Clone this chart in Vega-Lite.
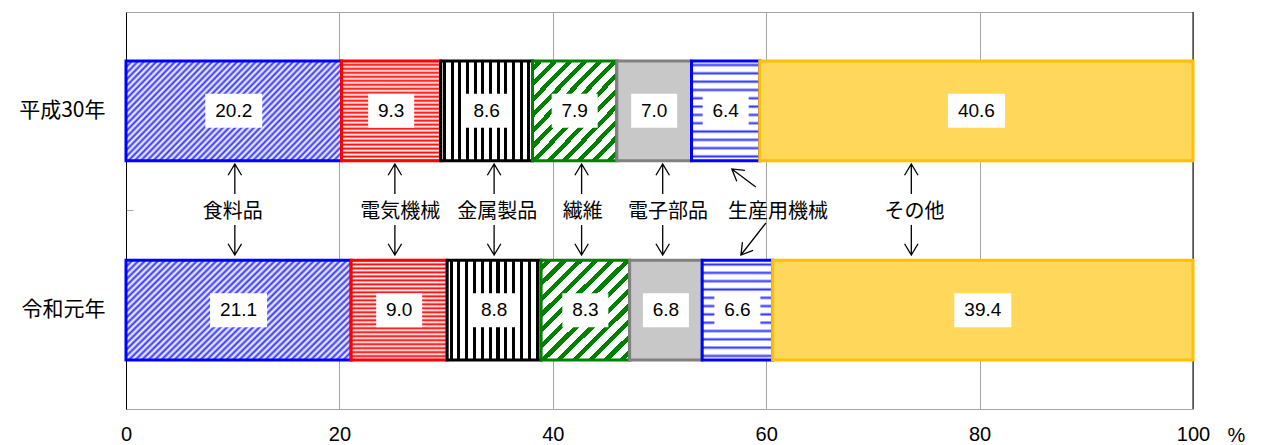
{
"$schema": "https://vega.github.io/schema/vega-lite/v6.json",
"width": 1067, "height": 397,
"autosize": "none",
"padding": {"left": 126, "top": 12, "right": 69, "bottom": 36},
"background": "white",
"config": {"view": {"stroke": "#a6a6a6", "strokeWidth": 1}, "font": "Noto Sans CJK JP"},
"datasets": {
"bars": [
{"year": "平成30年", "cat": "食料品", "order": 1, "value": 20.2},
{"year": "平成30年", "cat": "電気機械", "order": 2, "value": 9.3},
{"year": "平成30年", "cat": "金属製品", "order": 3, "value": 8.6},
{"year": "平成30年", "cat": "繊維", "order": 4, "value": 7.9},
{"year": "平成30年", "cat": "電子部品", "order": 5, "value": 7.0},
{"year": "平成30年", "cat": "生産用機械", "order": 6, "value": 6.4},
{"year": "平成30年", "cat": "その他", "order": 7, "value": 40.6},
{"year": "令和元年", "cat": "食料品", "order": 1, "value": 21.1},
{"year": "令和元年", "cat": "電気機械", "order": 2, "value": 9.0},
{"year": "令和元年", "cat": "金属製品", "order": 3, "value": 8.8},
{"year": "令和元年", "cat": "繊維", "order": 4, "value": 8.3},
{"year": "令和元年", "cat": "電子部品", "order": 5, "value": 6.8},
{"year": "令和元年", "cat": "生産用機械", "order": 6, "value": 6.6},
{"year": "令和元年", "cat": "その他", "order": 7, "value": 39.4}
],
"notes": [
{"name": "食料品", "x": 10.0},
{"name": "電気機械", "x": 25.7},
{"name": "金属製品", "x": 34.8},
{"name": "繊維", "x": 42.8},
{"name": "電子部品", "x": 50.8},
{"name": "生産用機械", "x": 61.1},
{"name": "その他", "x": 73.9}
],
"arrows": [
{"x": 10.2, "kind": "v"},
{"x": 25.2, "kind": "v"},
{"x": 34.5, "kind": "v"},
{"x": 42.7, "kind": "v"},
{"x": 50.3, "kind": "v"},
{"x": 73.6, "kind": "v"},
{"x": 57.9, "kind": "du"},
{"x": 58.8, "kind": "dd"}
]
},
"layer": [
{
"data": {"values": [{}]},
"mark": {"type": "rule", "color": "#000000", "strokeWidth": 1},
"encoding": {"x": {"datum": 100, "type": "quantitative", "title": "%"}}
},
{
"data": {"name": "bars"},
"transform": [{"stack": "value", "groupby": ["year"], "sort": [{"field": "order", "order": "ascending"}], "as": ["x0", "x1"]}],
"encoding": {
"x": {"field": "x0", "type": "quantitative", "title": "%", "scale": {"domain": [0, 100], "nice": false},
"axis": {"values": [0, 20, 40, 60, 80, 100], "grid": true, "gridColor": "#a6a6a6", "gridOpacity": {"condition": {"test": "datum.value === 0 || datum.value === 100", "value": 0}, "value": 1}, "domain": false, "ticks": false, "labelFont": "Liberation Sans", "labelFontSize": 20, "labelColor": "#000000", "labelPadding": 15, "labelDx": -4, "labelFlush": false, "title": "%", "titleX": 1110, "titleY": 16, "titleBaseline": "top", "titleAlign": "center", "titleAnchor": null, "titleFont": "Liberation Sans", "titleFontSize": 20, "titleFontWeight": "normal", "titleColor": "#000000"}},
"x2": {"field": "x1"},
"y": {"field": "year", "type": "nominal", "title": null, "scale": {"domain": ["平成30年", "_", "令和元年"], "paddingInner": 0, "paddingOuter": 0.49},
"axis": {"domainColor": "#000000", "domainWidth": 1, "ticks": true, "tickSize": -7, "tickColor": "#a6a6a6", "tickOpacity": {"condition": {"test": "datum.value === '_'", "value": 1}, "value": 0}, "labelExpr": "datum.value === '_' ? '' : datum.value", "labelFont": "Noto Sans CJK JP", "labelFontSize": 21, "labelColor": "#000000", "labelPadding": 28, "grid": false, "title": null}}
},
"layer": [
{"transform": [{"filter": "datum.cat === '食料品'"}], "mark": {"type": "bar", "stroke": "#0000ff", "strokeWidth": 3, "fill": {"gradient": "linear", "x1": 0, "y1": 0, "x2": 1.2, "y2": 0.54, "stops": [
{"offset": 0, "color": "#3333ff"}, {"offset": 0.01, "color": "#ffffff"}, {"offset": 0.02, "color": "#3333ff"}, {"offset": 0.03, "color": "#ffffff"}, {"offset": 0.04, "color": "#3333ff"}, {"offset": 0.05, "color": "#ffffff"}, {"offset": 0.06, "color": "#3333ff"}, {"offset": 0.07, "color": "#ffffff"}, {"offset": 0.08, "color": "#3333ff"}, {"offset": 0.09, "color": "#ffffff"},
{"offset": 0.1, "color": "#3333ff"}, {"offset": 0.11, "color": "#ffffff"}, {"offset": 0.12, "color": "#3333ff"}, {"offset": 0.13, "color": "#ffffff"}, {"offset": 0.14, "color": "#3333ff"}, {"offset": 0.15, "color": "#ffffff"}, {"offset": 0.16, "color": "#3333ff"}, {"offset": 0.17, "color": "#ffffff"}, {"offset": 0.18, "color": "#3333ff"}, {"offset": 0.19, "color": "#ffffff"},
{"offset": 0.2, "color": "#3333ff"}, {"offset": 0.21, "color": "#ffffff"}, {"offset": 0.22, "color": "#3333ff"}, {"offset": 0.23, "color": "#ffffff"}, {"offset": 0.24, "color": "#3333ff"}, {"offset": 0.25, "color": "#ffffff"}, {"offset": 0.26, "color": "#3333ff"}, {"offset": 0.27, "color": "#ffffff"}, {"offset": 0.28, "color": "#3333ff"}, {"offset": 0.29, "color": "#ffffff"},
{"offset": 0.3, "color": "#3333ff"}, {"offset": 0.31, "color": "#ffffff"}, {"offset": 0.32, "color": "#3333ff"}, {"offset": 0.33, "color": "#ffffff"}, {"offset": 0.34, "color": "#3333ff"}, {"offset": 0.35, "color": "#ffffff"}, {"offset": 0.36, "color": "#3333ff"}, {"offset": 0.37, "color": "#ffffff"}, {"offset": 0.38, "color": "#3333ff"}, {"offset": 0.39, "color": "#ffffff"},
{"offset": 0.4, "color": "#3333ff"}, {"offset": 0.41, "color": "#ffffff"}, {"offset": 0.42, "color": "#3333ff"}, {"offset": 0.43, "color": "#ffffff"}, {"offset": 0.44, "color": "#3333ff"}, {"offset": 0.45, "color": "#ffffff"}, {"offset": 0.46, "color": "#3333ff"}, {"offset": 0.47, "color": "#ffffff"}, {"offset": 0.48, "color": "#3333ff"}, {"offset": 0.49, "color": "#ffffff"},
{"offset": 0.5, "color": "#3333ff"}, {"offset": 0.51, "color": "#ffffff"}, {"offset": 0.52, "color": "#3333ff"}, {"offset": 0.53, "color": "#ffffff"}, {"offset": 0.54, "color": "#3333ff"}, {"offset": 0.55, "color": "#ffffff"}, {"offset": 0.56, "color": "#3333ff"}, {"offset": 0.57, "color": "#ffffff"}, {"offset": 0.58, "color": "#3333ff"}, {"offset": 0.59, "color": "#ffffff"},
{"offset": 0.6, "color": "#3333ff"}, {"offset": 0.61, "color": "#ffffff"}, {"offset": 0.62, "color": "#3333ff"}, {"offset": 0.63, "color": "#ffffff"}, {"offset": 0.64, "color": "#3333ff"}, {"offset": 0.65, "color": "#ffffff"}, {"offset": 0.66, "color": "#3333ff"}, {"offset": 0.67, "color": "#ffffff"}, {"offset": 0.68, "color": "#3333ff"}, {"offset": 0.69, "color": "#ffffff"},
{"offset": 0.7, "color": "#3333ff"}, {"offset": 0.71, "color": "#ffffff"}, {"offset": 0.72, "color": "#3333ff"}, {"offset": 0.73, "color": "#ffffff"}, {"offset": 0.74, "color": "#3333ff"}, {"offset": 0.75, "color": "#ffffff"}, {"offset": 0.76, "color": "#3333ff"}, {"offset": 0.77, "color": "#ffffff"}, {"offset": 0.78, "color": "#3333ff"}, {"offset": 0.79, "color": "#ffffff"},
{"offset": 0.8, "color": "#3333ff"}, {"offset": 0.81, "color": "#ffffff"}, {"offset": 0.82, "color": "#3333ff"}, {"offset": 0.83, "color": "#ffffff"}, {"offset": 0.84, "color": "#3333ff"}, {"offset": 0.85, "color": "#ffffff"}, {"offset": 0.86, "color": "#3333ff"}, {"offset": 0.87, "color": "#ffffff"}, {"offset": 0.88, "color": "#3333ff"}, {"offset": 0.89, "color": "#ffffff"},
{"offset": 0.9, "color": "#3333ff"}, {"offset": 0.91, "color": "#ffffff"}, {"offset": 0.92, "color": "#3333ff"}, {"offset": 0.93, "color": "#ffffff"}, {"offset": 0.94, "color": "#3333ff"}, {"offset": 0.95, "color": "#ffffff"}, {"offset": 0.96, "color": "#3333ff"}, {"offset": 0.97, "color": "#ffffff"}, {"offset": 0.98, "color": "#3333ff"}, {"offset": 0.99, "color": "#ffffff"},
{"offset": 1, "color": "#3333ff"}]}}},
{"transform": [{"filter": "datum.cat === '電気機械'"}], "mark": {"type": "bar", "stroke": "#ff0000", "strokeWidth": 3, "fill": {"gradient": "linear", "x1": 0, "y1": 0, "x2": 0, "y2": 1, "stops": [
{"offset": 0, "color": "#ff0000"}, {"offset": 0.02, "color": "#ffffff"}, {"offset": 0.04, "color": "#ff0000"}, {"offset": 0.06, "color": "#ffffff"}, {"offset": 0.08, "color": "#ff0000"}, {"offset": 0.1, "color": "#ffffff"}, {"offset": 0.12, "color": "#ff0000"}, {"offset": 0.14, "color": "#ffffff"}, {"offset": 0.16, "color": "#ff0000"}, {"offset": 0.18, "color": "#ffffff"},
{"offset": 0.2, "color": "#ff0000"}, {"offset": 0.22, "color": "#ffffff"}, {"offset": 0.24, "color": "#ff0000"}, {"offset": 0.26, "color": "#ffffff"}, {"offset": 0.28, "color": "#ff0000"}, {"offset": 0.3, "color": "#ffffff"}, {"offset": 0.32, "color": "#ff0000"}, {"offset": 0.34, "color": "#ffffff"}, {"offset": 0.36, "color": "#ff0000"}, {"offset": 0.38, "color": "#ffffff"},
{"offset": 0.4, "color": "#ff0000"}, {"offset": 0.42, "color": "#ffffff"}, {"offset": 0.44, "color": "#ff0000"}, {"offset": 0.46, "color": "#ffffff"}, {"offset": 0.48, "color": "#ff0000"}, {"offset": 0.5, "color": "#ffffff"}, {"offset": 0.52, "color": "#ff0000"}, {"offset": 0.54, "color": "#ffffff"}, {"offset": 0.56, "color": "#ff0000"}, {"offset": 0.58, "color": "#ffffff"},
{"offset": 0.6, "color": "#ff0000"}, {"offset": 0.62, "color": "#ffffff"}, {"offset": 0.64, "color": "#ff0000"}, {"offset": 0.66, "color": "#ffffff"}, {"offset": 0.68, "color": "#ff0000"}, {"offset": 0.7, "color": "#ffffff"}, {"offset": 0.72, "color": "#ff0000"}, {"offset": 0.74, "color": "#ffffff"}, {"offset": 0.76, "color": "#ff0000"}, {"offset": 0.78, "color": "#ffffff"},
{"offset": 0.8, "color": "#ff0000"}, {"offset": 0.82, "color": "#ffffff"}, {"offset": 0.84, "color": "#ff0000"}, {"offset": 0.86, "color": "#ffffff"}, {"offset": 0.88, "color": "#ff0000"}, {"offset": 0.9, "color": "#ffffff"}, {"offset": 0.92, "color": "#ff0000"}, {"offset": 0.94, "color": "#ffffff"}, {"offset": 0.96, "color": "#ff0000"}, {"offset": 0.98, "color": "#ffffff"},
{"offset": 1, "color": "#ff0000"}]}}},
{"transform": [{"filter": "datum.cat === '金属製品'"}], "mark": {"type": "bar", "stroke": "#000000", "strokeWidth": 3, "fill": {"gradient": "linear", "x1": 0, "y1": 0, "x2": 1, "y2": 0, "stops": [
{"offset": 0, "color": "#ffffff"},
{"offset": 0.025, "color": "#ffffff"}, {"offset": 0.025, "color": "#000000"}, {"offset": 0.0583, "color": "#000000"}, {"offset": 0.0583, "color": "#ffffff"},
{"offset": 0.1083, "color": "#ffffff"}, {"offset": 0.1083, "color": "#000000"}, {"offset": 0.1416, "color": "#000000"}, {"offset": 0.1416, "color": "#ffffff"},
{"offset": 0.1917, "color": "#ffffff"}, {"offset": 0.1917, "color": "#000000"}, {"offset": 0.225, "color": "#000000"}, {"offset": 0.225, "color": "#ffffff"},
{"offset": 0.275, "color": "#ffffff"}, {"offset": 0.275, "color": "#000000"}, {"offset": 0.3083, "color": "#000000"}, {"offset": 0.3083, "color": "#ffffff"},
{"offset": 0.3583, "color": "#ffffff"}, {"offset": 0.3583, "color": "#000000"}, {"offset": 0.3916, "color": "#000000"}, {"offset": 0.3916, "color": "#ffffff"},
{"offset": 0.4417, "color": "#ffffff"}, {"offset": 0.4417, "color": "#000000"}, {"offset": 0.475, "color": "#000000"}, {"offset": 0.475, "color": "#ffffff"},
{"offset": 0.525, "color": "#ffffff"}, {"offset": 0.525, "color": "#000000"}, {"offset": 0.5583, "color": "#000000"}, {"offset": 0.5583, "color": "#ffffff"},
{"offset": 0.6083, "color": "#ffffff"}, {"offset": 0.6083, "color": "#000000"}, {"offset": 0.6416, "color": "#000000"}, {"offset": 0.6416, "color": "#ffffff"},
{"offset": 0.6917, "color": "#ffffff"}, {"offset": 0.6917, "color": "#000000"}, {"offset": 0.725, "color": "#000000"}, {"offset": 0.725, "color": "#ffffff"},
{"offset": 0.775, "color": "#ffffff"}, {"offset": 0.775, "color": "#000000"}, {"offset": 0.8083, "color": "#000000"}, {"offset": 0.8083, "color": "#ffffff"},
{"offset": 0.8583, "color": "#ffffff"}, {"offset": 0.8583, "color": "#000000"}, {"offset": 0.8916, "color": "#000000"}, {"offset": 0.8916, "color": "#ffffff"},
{"offset": 0.9417, "color": "#ffffff"}, {"offset": 0.9417, "color": "#000000"}, {"offset": 0.975, "color": "#000000"}, {"offset": 0.975, "color": "#ffffff"},
{"offset": 1, "color": "#ffffff"}]}}},
{"transform": [{"filter": "datum.cat === '繊維'"}], "mark": {"type": "bar", "stroke": "#008000", "strokeWidth": 3, "fill": {"gradient": "linear", "x1": 0, "y1": 0, "x2": 0.93, "y2": 1.06, "stops": [
{"offset": 0, "color": "#ffffff"},
{"offset": 0.025, "color": "#ffffff"}, {"offset": 0.025, "color": "#008000"}, {"offset": 0.0583, "color": "#008000"}, {"offset": 0.0583, "color": "#ffffff"},
{"offset": 0.1083, "color": "#ffffff"}, {"offset": 0.1083, "color": "#008000"}, {"offset": 0.1416, "color": "#008000"}, {"offset": 0.1416, "color": "#ffffff"},
{"offset": 0.1917, "color": "#ffffff"}, {"offset": 0.1917, "color": "#008000"}, {"offset": 0.225, "color": "#008000"}, {"offset": 0.225, "color": "#ffffff"},
{"offset": 0.275, "color": "#ffffff"}, {"offset": 0.275, "color": "#008000"}, {"offset": 0.3083, "color": "#008000"}, {"offset": 0.3083, "color": "#ffffff"},
{"offset": 0.3583, "color": "#ffffff"}, {"offset": 0.3583, "color": "#008000"}, {"offset": 0.3916, "color": "#008000"}, {"offset": 0.3916, "color": "#ffffff"},
{"offset": 0.4417, "color": "#ffffff"}, {"offset": 0.4417, "color": "#008000"}, {"offset": 0.475, "color": "#008000"}, {"offset": 0.475, "color": "#ffffff"},
{"offset": 0.525, "color": "#ffffff"}, {"offset": 0.525, "color": "#008000"}, {"offset": 0.5583, "color": "#008000"}, {"offset": 0.5583, "color": "#ffffff"},
{"offset": 0.6083, "color": "#ffffff"}, {"offset": 0.6083, "color": "#008000"}, {"offset": 0.6416, "color": "#008000"}, {"offset": 0.6416, "color": "#ffffff"},
{"offset": 0.6917, "color": "#ffffff"}, {"offset": 0.6917, "color": "#008000"}, {"offset": 0.725, "color": "#008000"}, {"offset": 0.725, "color": "#ffffff"},
{"offset": 0.775, "color": "#ffffff"}, {"offset": 0.775, "color": "#008000"}, {"offset": 0.8083, "color": "#008000"}, {"offset": 0.8083, "color": "#ffffff"},
{"offset": 0.8583, "color": "#ffffff"}, {"offset": 0.8583, "color": "#008000"}, {"offset": 0.8916, "color": "#008000"}, {"offset": 0.8916, "color": "#ffffff"},
{"offset": 0.9417, "color": "#ffffff"}, {"offset": 0.9417, "color": "#008000"}, {"offset": 0.975, "color": "#008000"}, {"offset": 0.975, "color": "#ffffff"},
{"offset": 1, "color": "#ffffff"}]}}},
{"transform": [{"filter": "datum.cat === '電子部品'"}], "mark": {"type": "bar", "stroke": "#808080", "strokeWidth": 3, "fill": "#c8c8c8"}},
{"transform": [{"filter": "datum.cat === '生産用機械'"}], "mark": {"type": "bar", "stroke": "#0000ff", "strokeWidth": 3, "fill": {"gradient": "linear", "x1": 0, "y1": 0, "x2": 0, "y2": 1, "stops": [
{"offset": 0, "color": "#ffffff"},
{"offset": 0.02, "color": "#ffffff"}, {"offset": 0.0417, "color": "#3030ff"}, {"offset": 0.0633, "color": "#ffffff"},
{"offset": 0.1033, "color": "#ffffff"}, {"offset": 0.125, "color": "#3030ff"}, {"offset": 0.1466, "color": "#ffffff"},
{"offset": 0.1867, "color": "#ffffff"}, {"offset": 0.2083, "color": "#3030ff"}, {"offset": 0.23, "color": "#ffffff"},
{"offset": 0.27, "color": "#ffffff"}, {"offset": 0.2917, "color": "#3030ff"}, {"offset": 0.3133, "color": "#ffffff"},
{"offset": 0.3533, "color": "#ffffff"}, {"offset": 0.375, "color": "#3030ff"}, {"offset": 0.3966, "color": "#ffffff"},
{"offset": 0.4367, "color": "#ffffff"}, {"offset": 0.4583, "color": "#3030ff"}, {"offset": 0.48, "color": "#ffffff"},
{"offset": 0.52, "color": "#ffffff"}, {"offset": 0.5417, "color": "#3030ff"}, {"offset": 0.5633, "color": "#ffffff"},
{"offset": 0.6033, "color": "#ffffff"}, {"offset": 0.625, "color": "#3030ff"}, {"offset": 0.6466, "color": "#ffffff"},
{"offset": 0.6867, "color": "#ffffff"}, {"offset": 0.7083, "color": "#3030ff"}, {"offset": 0.73, "color": "#ffffff"},
{"offset": 0.77, "color": "#ffffff"}, {"offset": 0.7917, "color": "#3030ff"}, {"offset": 0.8133, "color": "#ffffff"},
{"offset": 0.8533, "color": "#ffffff"}, {"offset": 0.875, "color": "#3030ff"}, {"offset": 0.8966, "color": "#ffffff"},
{"offset": 0.9367, "color": "#ffffff"}, {"offset": 0.9583, "color": "#3030ff"}, {"offset": 0.98, "color": "#ffffff"},
{"offset": 1, "color": "#ffffff"}]}}},
{"transform": [{"filter": "datum.cat === 'その他'"}], "mark": {"type": "bar", "stroke": "#ffc000", "strokeWidth": 3, "fill": "#ffd75a"}}
]
},
{
"data": {"name": "bars"},
"encoding": {
"x": {"field": "value", "type": "quantitative", "stack": "zero", "bandPosition": 0.5, "title": "%"},
"y": {"field": "year", "type": "nominal", "title": null},
"order": {"field": "order", "type": "quantitative"}
},
"layer": [
{"mark": {"type": "point", "filled": true, "color": "#ffffff", "opacity": 1, "strokeWidth": 0},
"encoding": {
"shape": {"condition": {"test": "datum.value >= 10", "value": "M-1,-0.6L1,-0.6L1,0.6L-1,0.6Z"}, "value": "M-1,-0.74L1,-0.74L1,0.74L-1,0.74Z"},
"size": {"condition": {"test": "datum.value >= 10", "value": 3249}, "value": 2116}}},
{"mark": {"type": "text", "font": "Liberation Sans", "fontSize": 19, "color": "#000000", "baseline": "middle", "align": "center"},
"encoding": {"text": {"field": "value", "type": "quantitative", "format": ".1f"}}}
]
},
{
"data": {"name": "notes"},
"mark": {"type": "text", "font": "Noto Sans CJK JP", "fontSize": 20, "color": "#000000", "baseline": "middle", "align": "center", "dy": 1},
"encoding": {
"x": {"field": "x", "type": "quantitative", "title": "%"},
"y": {"datum": "_", "type": "nominal", "title": null},
"text": {"field": "name", "type": "nominal"}
}
},
{
"data": {"name": "arrows"},
"encoding": {
"x": {"field": "x", "type": "quantitative", "title": "%"},
"y": {"datum": "_", "type": "nominal", "title": null}
},
"layer": [
{"transform": [{"filter": "datum.kind === 'v'"}], "mark": {"type": "point", "filled": false, "color": "#000000", "opacity": 1, "strokeWidth": 1.3, "size": 900, "yOffset": -31.5, "shape": "M0,-1L0,1M-0.45,-0.25L0,-1L0.45,-0.25"}},
{"transform": [{"filter": "datum.kind === 'v'"}], "mark": {"type": "point", "filled": false, "color": "#000000", "opacity": 1, "strokeWidth": 1.3, "size": 900, "yOffset": 29.5, "shape": "M0,-1L0,1M-0.45,0.25L0,1L0.45,0.25"}},
{"transform": [{"filter": "datum.kind === 'du'"}], "mark": {"type": "point", "filled": false, "color": "#000000", "opacity": 1, "strokeWidth": 1.3, "size": 900, "yOffset": -32.5, "angle": -53, "shape": "M0,-1L0,1M-0.45,-0.25L0,-1L0.45,-0.25"}},
{"transform": [{"filter": "datum.kind === 'dd'"}], "mark": {"type": "point", "filled": false, "color": "#000000", "opacity": 1, "strokeWidth": 1.3, "size": 1648, "yOffset": 28.5, "angle": 38, "shape": "M0,-1L0,1M-0.33,0.45L0,1L0.33,0.45"}}
]
}
]
}
